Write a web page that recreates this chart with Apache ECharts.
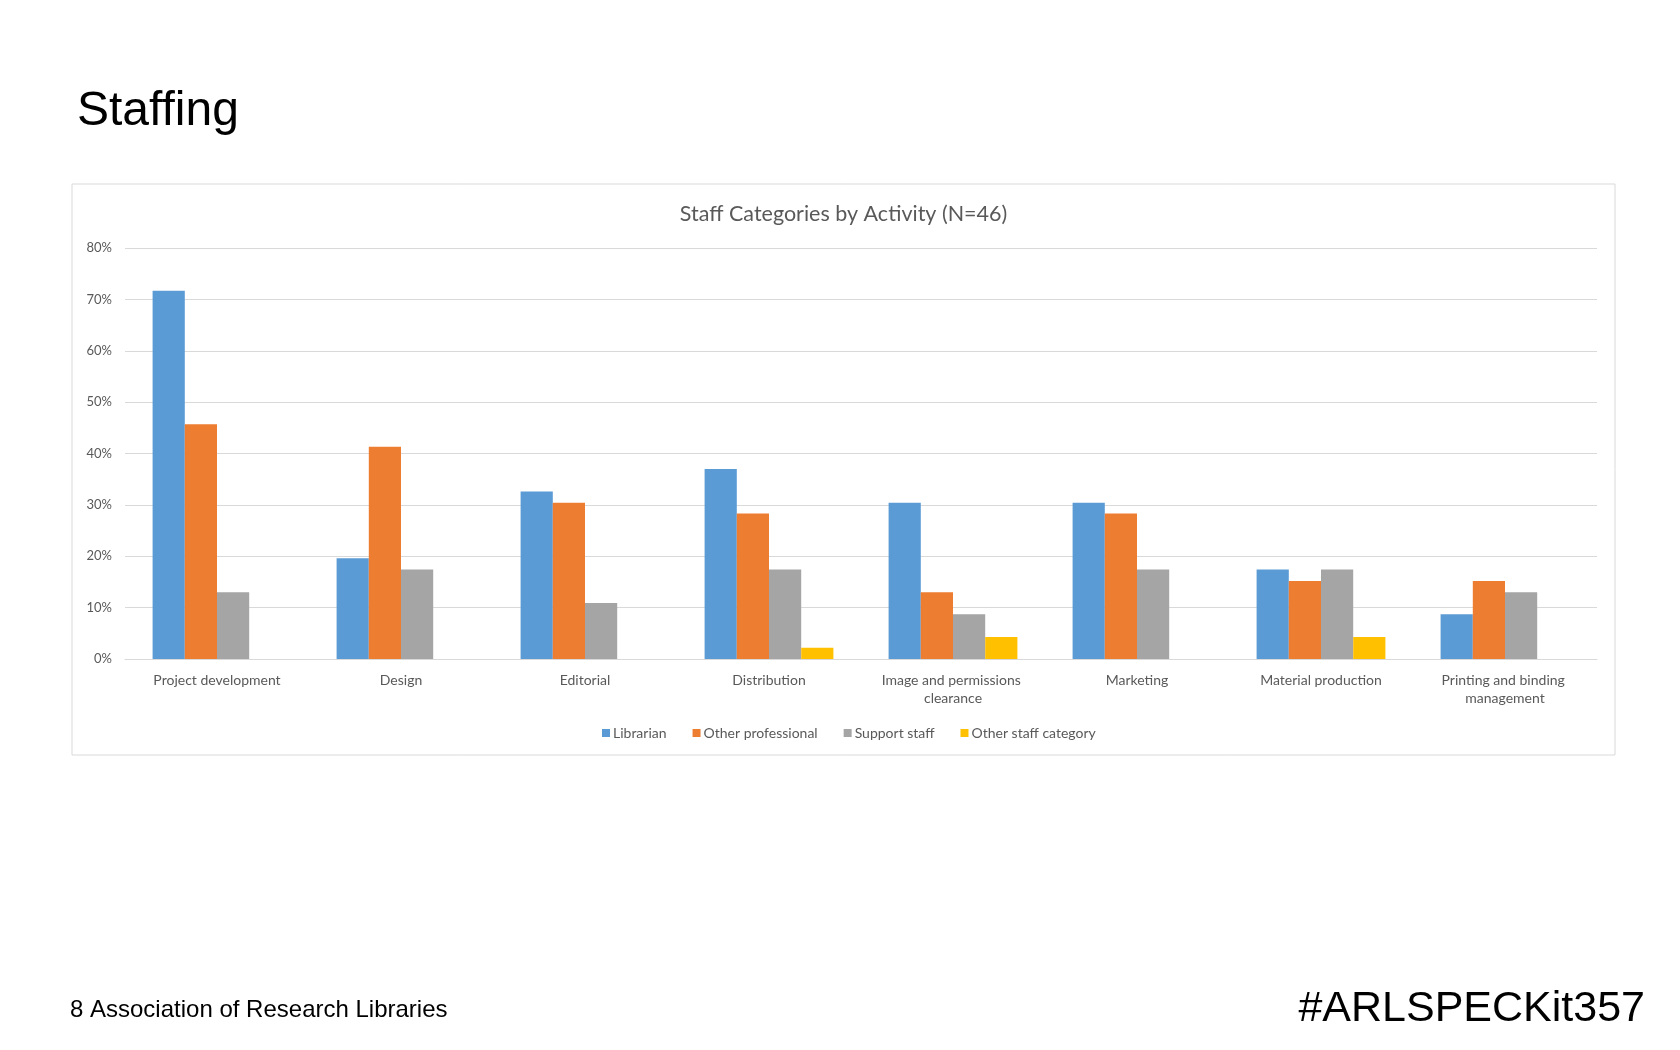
<!DOCTYPE html>
<html>
<head>
<meta charset="utf-8">
<title>Staffing</title>
<script src="https://cdn.jsdelivr.net/npm/echarts@6/dist/echarts.min.js"></script>
<style>
  html, body { margin: 0; padding: 0; background: #ffffff; }
  #chart { width: 1680px; height: 1050px; }
</style>
</head>
<body>
<div id="chart"></div>
<script>
// ---- data (percent of N=46 respondents) ----
const categories = [
  "Project development", "Design", "Editorial", "Distribution",
  "Image and permissions clearance", "Marketing", "Material production",
  "Printing and binding management"
];
const librarian         = [71.7, 19.6, 32.6, 37.0, 30.4, 30.4, 17.4, 8.7];
const otherProfessional = [45.7, 41.3, 30.4, 28.3, 13.0, 28.3, 15.2, 15.2];
const supportStaff      = [13.0, 17.4, 10.9, 17.4, 8.7, 17.4, 17.4, 13.0];
const otherStaff        = [null, null, null, 2.2, 4.3, null, 4.3, null];
const seriesNames = ["Librarian", "Other professional", "Support staff", "Other staff category"];
const yTicks = { min: 0, max: 80, interval: 10 };

const colors = ["#5B9BD5", "#ED7D31", "#A5A5A5", "#FFC000"];
const chartFont = "Lato";
const textGray = "#595959";

const chart = echarts.init(document.getElementById('chart'), null, { renderer: 'canvas' });

const seriesData = [librarian, otherProfessional, supportStaff, otherStaff];

const option = {
  backgroundColor: '#ffffff',
  animation: false,
  color: colors,
  graphic: [
    {
      type: 'rect',
      shape: { x: 72, y: 184, width: 1543, height: 571 },
      style: { fill: 'none', stroke: '#d9d9d9', lineWidth: 1 },
      z: 0
    },
    {
      type: 'text',
      x: 77, y: 112,
      style: {
        text: 'Staffing',
        font: '48px "Liberation Sans", Arial, sans-serif',
        fill: '#000000',
        textAlign: 'left',
        textVerticalAlign: 'middle',
        verticalAlign: 'middle'
      }
    },
    {
      type: 'text',
      x: 843.5, y: 214,
      style: {
        text: 'Staff Categories by Activity (N=46)',
        font: '21.5px "' + chartFont + '", sans-serif',
        fill: textGray,
        textAlign: 'center',
        textVerticalAlign: 'middle',
        verticalAlign: 'middle'
      }
    },
    {
      type: 'text',
      x: 70, y: 1010,
      style: {
        text: '8 Association of Research Libraries',
        font: '24px "Liberation Sans", Arial, sans-serif',
        fill: '#000000',
        textAlign: 'left',
        textVerticalAlign: 'middle',
        verticalAlign: 'middle'
      }
    },
    {
      type: 'text',
      x: 1645, y: 1009,
      style: {
        text: '#ARLSPECKit357',
        font: '43px "Liberation Sans", Arial, sans-serif',
        fill: '#000000',
        textAlign: 'right',
        textVerticalAlign: 'middle',
        verticalAlign: 'middle'
      }
    }
  ],
  legend: {
    data: seriesNames,
    left: 597,
    top: 721,
    itemWidth: 8,
    itemHeight: 8,
    itemGap: 26,
    icon: 'rect',
    textStyle: { fontFamily: chartFont, fontSize: 14, color: textGray, padding: [0, 0, 0, -2] }
  },
  grid: { left: 125, right: 83, top: 248, bottom: 391, containLabel: false },
  xAxis: {
    type: 'category',
    data: categories,
    axisLine: { show: true, lineStyle: { color: '#d9d9d9', width: 1 } },
    axisTick: { show: false },
    axisLabel: {
      interval: 0,
      margin: 12,
      fontFamily: chartFont,
      fontSize: 14,
      color: textGray,
      width: 160,
      overflow: 'break',
      lineHeight: 18
    }
  },
  yAxis: {
    type: 'value',
    min: yTicks.min,
    max: yTicks.max,
    interval: yTicks.interval,
    axisLine: { show: false },
    axisTick: { show: false },
    splitLine: { lineStyle: { color: '#d9d9d9', width: 1 } },
    axisLabel: {
      formatter: '{value}%',
      margin: 13,
      fontFamily: chartFont,
      fontSize: 13,
      color: textGray
    }
  },
  series: seriesNames.map((name, i) => ({
    name: name,
    type: 'bar',
    data: seriesData[i],
    barGap: '0%',
    barCategoryGap: '30%',
    itemStyle: { color: colors[i] }
  }))
};

chart.setOption(option);
</script>
</body>
</html>
